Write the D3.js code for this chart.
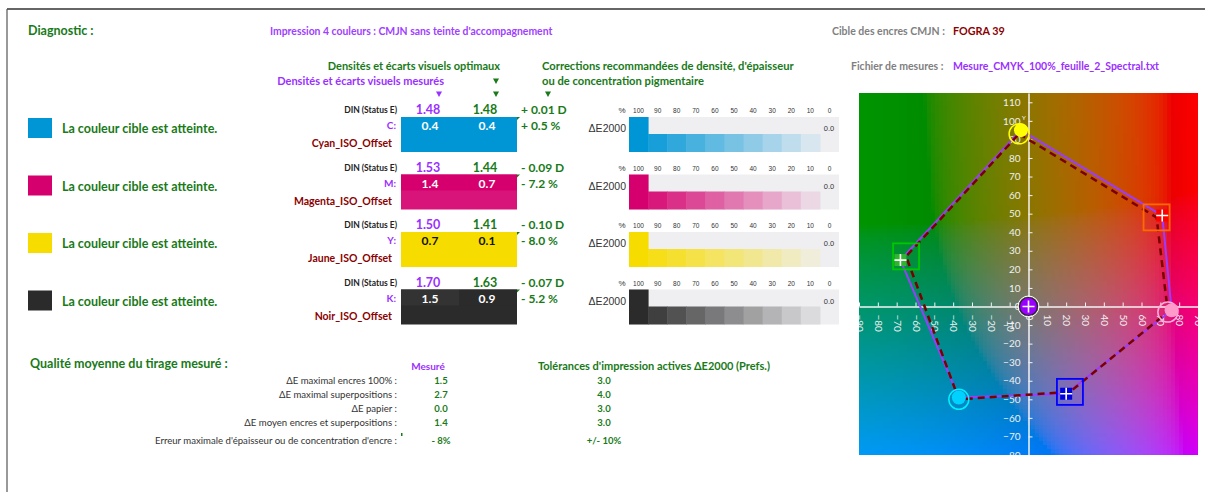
<!DOCTYPE html>
<html>
<head>
<meta charset="utf-8">
<script src="https://cdn.jsdelivr.net/npm/d3@7/dist/d3.min.js"></script>
<style>
  body { margin: 0; background: #fff; }
  text { font-family: Lato, "Open Sans", sans-serif; }
  .arial { font-family: "Liberation Sans", Arial, sans-serif; }
</style>
</head>
<body>
<div id="chart"></div>
<script>
// ---- data ----
const inkCodes = ["C", "M", "Y", "K"];
const inkNames = ["Cyan_ISO_Offset", "Magenta_ISO_Offset", "Jaune_ISO_Offset", "Noir_ISO_Offset"];
const densityMeasured = [1.48, 1.53, 1.50, 1.70];
const densityOptimal = [1.48, 1.44, 1.41, 1.63];
const densityCorrection = [0.01, -0.09, -0.10, -0.07];
const thicknessCorrection = [0.5, -7.2, -8.0, -5.2];
const deltaEMeasured = [0.4, 1.4, 0.7, 1.5];
const deltaEOptimal = [0.4, 0.7, 0.1, 0.9];
const toneSteps = [100, 90, 80, 70, 60, 50, 40, 30, 20, 10, 0];
const toneDeltaEMax = [0.0, 0.0, 0.0, 0.0];

const patches = ["Y", "R", "M", "B", "C", "G"];
const targetA = [-5, 68, 74, 22, -37, -65];
const targetB = [93, 48, -3, -46, -50, 27];
const measuredA = [-4, 71, 76, 20, -37, -68];
const measuredB = [95, 49, -2, -47, -49, 25];
const paperA = 0, paperB = 0;
const aTicks = d3.range(-90, 91, 10);
const bTicks = d3.range(-80, 111, 10);

const qualityLabels = ["ΔE maximal encres 100% :", "ΔE maximal superpositions :", "ΔE papier :",
  "ΔE moyen encres et superpositions :", "Erreur maximale d'épaisseur ou de concentration d'encre :"];
const qualityMeasured = ["1.5", "2.7", "0.0", "1.4", "- 8%"];
const qualityTolerance = ["3.0", "4.0", "3.0", "3.0", "+/- 10%"];

// ---- styles ----
const GREEN = "#187a18", PURPLE = "#9b30ff", DARKRED = "#8b0000", GREY = "#7f7f7f";
const inkColor = { C: "#0096d6", M: "#d5006e", Y: "#f7dc00", K: "#2b2b2b" };
const inkLower = { C: "#0096d6", M: "#d8147a", Y: "#f7dc00", K: "#2b2b2b" };
const inkCell1 = { C: "#0096d6", M: "#d5006e", Y: "#f7dc00", K: "#333333" };
const paper = "#efeff2";
const markerStyle = {
  Y: { shape: "circle", fill: "#ffff00", stroke: "#ffff00" },
  R: { shape: "square", fill: "#ff0000", stroke: "#ff6a00" },
  M: { shape: "circle", fill: "#ff9acb", stroke: "#ffb0d8" },
  B: { shape: "square", fill: "#0000e0", stroke: "#0000ff" },
  C: { shape: "circle", fill: "#00d2ff", stroke: "#00f0ff" },
  G: { shape: "square", fill: "#2fb52f", stroke: "#00c800" }
};

const W = 1205, H = 492;
const svg = d3.select("#chart").append("svg").attr("width", W).attr("height", H);

// frame
svg.append("line").attr("x1", 7).attr("y1", 9).attr("x2", W).attr("y2", 9)
  .attr("stroke", "#333").attr("stroke-width", 1.5);
svg.append("line").attr("x1", 7).attr("y1", 9).attr("x2", 7).attr("y2", H)
  .attr("stroke", "#555").attr("stroke-width", 1.2);

function txt(g, x, y, s, size, color, weight, anchor) {
  return g.append("text").attr("x", x).attr("y", y).text(s)
    .attr("font-size", size).attr("fill", color)
    .attr("font-weight", weight || "normal").attr("text-anchor", anchor || "start");
}

// header
txt(svg, 28, 35, "Diagnostic :", 12.5, GREEN, "bold");
txt(svg, 270, 35, "Impression 4 couleurs : CMJN sans teinte d'accompagnement", 10.4, "#a040ff", "bold");
txt(svg, 832, 35, "Cible des encres CMJN :", 10.5, GREY, "bold");
txt(svg, 953, 35, "FOGRA 39", 10.8, DARKRED, "bold");
txt(svg, 500, 70, "Densités et écarts visuels optimaux", 11, GREEN, "bold", "end");
txt(svg, 444, 85, "Densités et écarts visuels mesurés", 11, PURPLE, "bold", "end");
txt(svg, 542, 70, "Corrections recommandées de densité, d'épaisseur", 11.2, GREEN, "bold");
txt(svg, 542, 85, "ou de concentration pigmentaire", 11.2, GREEN, "bold");
txt(svg, 851, 70, "Fichier de mesures :", 10.5, GREY, "bold");
txt(svg, 953, 70, "Mesure_CMYK_100%_feuille_2_Spectral.txt", 10.5, PURPLE, "bold");

function tri(cx, cy, color) {
  svg.append("path").attr("d", `M${cx - 3},${cy - 2.5}L${cx + 3},${cy - 2.5}L${cx},${cy + 3}Z`).attr("fill", color);
}
tri(496, 81, GREEN);
tri(439, 94, PURPLE);
tri(496, 94, GREEN);
tri(548, 94, GREEN);

// rows
const rowY = d3.scaleBand().domain(inkCodes).range([117, 347]);
const toneX = d3.scaleBand().domain(toneSteps).range([629, 839]);
const fmtD = v => (v >= 0 ? "+ " : "- ") + d3.format(".2f")(Math.abs(v)) + " D";
const fmtP = v => (v >= 0 ? "+ " : "- ") + d3.format(".1f")(Math.abs(v)) + " %";

inkCodes.forEach((code, i) => {
  const top = rowY(code);
  const g = svg.append("g");
  g.append("rect").attr("x", 28).attr("y", top + 1).attr("width", 24).attr("height", 20).attr("fill", inkColor[code]);
  txt(g, 62, top + 16, "La couleur cible est atteinte.", 12.5, GREEN, "bold");

  txt(g, 397, top - 4, "DIN (Status E)", 8.5, "#222", "bold", "end");
  txt(g, 396, top + 12, code + ":", 10, PURPLE, "bold", "end");
  txt(g, 392, top + 30, inkNames[i], 10.5, DARKRED, "bold", "end");

  txt(g, 428, top - 3, d3.format(".2f")(densityMeasured[i]), 12.5, PURPLE, "bold", "middle");
  txt(g, 485, top - 3, d3.format(".2f")(densityOptimal[i]), 12.5, GREEN, "bold", "middle");
  txt(g, 521, top - 3, fmtD(densityCorrection[i]), 12, GREEN, "bold");
  txt(g, 521, top + 13, fmtP(thicknessCorrection[i]), 12, GREEN, "bold");

  g.append("rect").attr("x", 401).attr("y", top).attr("width", 116).attr("height", 35).attr("fill", inkLower[code]);
  g.append("rect").attr("x", 401).attr("y", top).attr("width", 58).attr("height", 16).attr("fill", inkCell1[code]);
  g.append("rect").attr("x", 459).attr("y", top).attr("width", 58).attr("height", 16).attr("fill", inkColor[code]);
  const vc = code === "Y" ? "#111" : "#fff";
  txt(g, 430, top + 13, d3.format(".1f")(deltaEMeasured[i]), 12, vc, "bold", "middle");
  txt(g, 487, top + 13, d3.format(".1f")(deltaEOptimal[i]), 12, vc, "bold", "middle");
  g.append("path").attr("d", `M517,${top}l3,0l-3,3Z`).attr("fill", GREEN);

  // tone bars
  txt(g, 622, top - 4, "%", 8, "#333", "normal", "middle").attr("class", "arial");
  toneSteps.forEach(s => {
    txt(g, toneX(s) + toneX.bandwidth() / 2, top - 4, s, 6.5, "#333", "normal", "middle").attr("class", "arial");
  });
  g.append("rect").attr("x", 629).attr("y", top).attr("width", 210).attr("height", 35).attr("fill", paper);
  const mix = d3.interpolateRgb(paper, inkColor[code]);
  g.selectAll("rect.tone").data(toneSteps.filter(s => s > 0)).join("rect").attr("class", "tone")
    .attr("x", s => toneX(s)).attr("width", toneX.bandwidth() + 0.5)
    .attr("y", s => s === 100 ? top : top + 17).attr("height", s => s === 100 ? 35 : 18)
    .attr("fill", s => mix(s / 100));
  txt(g, 626, top + 15, "ΔE2000", 10.5, "#333", "normal", "end").attr("class", "arial");
  txt(g, 829, top + 14, d3.format(".1f")(toneDeltaEMax[i]), 7.5, "#333", "normal", "middle").attr("class", "arial");
});

// quality table
txt(svg, 30, 368, "Qualité moyenne du tirage mesuré :", 12.5, GREEN, "bold");
txt(svg, 428, 370, "Mesuré", 10, PURPLE, "bold", "middle");
txt(svg, 538, 370, "Tolérances d'impression actives ΔE2000 (Prefs.)", 11, GREEN, "bold");
const qY = [384, 398, 412, 426, 444];
qualityLabels.forEach((l, i) => {
  txt(svg, 397, qY[i], l, 9.6, "#333", "normal", "end");
  txt(svg, 441, qY[i], qualityMeasured[i], 9.5, GREEN, "bold", "middle");
  txt(svg, 604, qY[i], qualityTolerance[i], 9.5, GREEN, "bold", "middle");
});
svg.append("rect").attr("x", 401).attr("y", 433).attr("width", 1.5).attr("height", 3).attr("fill", GREEN);

// ---- a*b* chart ----
const x = d3.scaleLinear().domain([-90, 90]).range([859, 1198]);
const y = d3.scaleLinear().domain([-80, 115]).range([455, 93]);

svg.append("clipPath").attr("id", "plotclip").append("rect")
  .attr("x", 859).attr("y", 93).attr("width", 339).attr("height", 362);
const plot = svg.append("g").attr("clip-path", "url(#plotclip)");

const cell = 4;
const cells = [];
for (let px = 859; px < 1198; px += cell) {
  for (let py = 93; py < 455; py += cell) {
    cells.push({ px, py, a: x.invert(px + cell / 2), b: y.invert(py + cell / 2) });
  }
}
plot.append("g").selectAll("rect").data(cells).join("rect")
  .attr("x", d => d.px).attr("y", d => d.py).attr("width", cell + 0.5).attr("height", cell + 0.5)
  .attr("shape-rendering", "crispEdges")
  .attr("fill", d => d3.lab(50, d.a, d.b + 6).formatHex());

// axes
const yAxis = plot.append("g").attr("transform", `translate(${x(0)},0)`)
  .call(d3.axisLeft(y).tickValues(bTicks).tickSizeInner(-4).tickSizeOuter(0).tickPadding(8));
const xAxis = plot.append("g").attr("transform", `translate(0,${y(0)})`)
  .call(d3.axisBottom(x).tickValues(aTicks).tickSizeInner(-4).tickSizeOuter(0).tickPadding(8));
[yAxis, xAxis].forEach(ax => {
  ax.select(".domain").attr("stroke", "#f4f4f4").attr("stroke-width", 1.5);
  ax.selectAll(".tick line").attr("stroke", "#f4f4f4");
  ax.selectAll("text").attr("fill", "#f0f0f0").attr("font-size", 10)
    .attr("font-family", "'Liberation Sans', Arial, sans-serif");
});
xAxis.selectAll("text").attr("y", 0).attr("x", 8).attr("dy", "0.35em")
  .attr("transform", "rotate(90)").style("text-anchor", "start");

// target (dashed) and measured (solid) polygons
const tgt = patches.map((p, i) => [x(targetA[i]), y(targetB[i])]);
const mes = patches.map((p, i) => [x(measuredA[i]), y(measuredB[i])]);
const line = d3.line().curve(d3.curveLinearClosed);
plot.append("path").attr("d", line(mes)).attr("fill", "none")
  .attr("stroke", "#9a3cff").attr("stroke-width", 2);
plot.append("path").attr("d", line(tgt)).attr("fill", "none")
  .attr("stroke", "#7a0000").attr("stroke-width", 2.5).attr("stroke-dasharray", "7,5");

function cross(cx, cy, r) {
  plot.append("path").attr("d", `M${cx - r},${cy}H${cx + r}M${cx},${cy - r}V${cy + r}`)
    .attr("stroke", "#fff").attr("stroke-width", 1.6);
}

patches.forEach((p, i) => {
  const st = markerStyle[p];
  const [tx, ty] = tgt[i];
  const [mx, my] = mes[i];
  if (st.shape === "circle") {
    plot.append("circle").attr("cx", tx).attr("cy", ty).attr("r", 10)
      .attr("fill", "none").attr("stroke", st.stroke).attr("stroke-width", 1.5);
    plot.append("circle").attr("cx", mx).attr("cy", my).attr("r", 7).attr("fill", st.fill);
  } else {
    plot.append("rect").attr("x", tx - 13).attr("y", ty - 13).attr("width", 26).attr("height", 26)
      .attr("fill", "none").attr("stroke", st.stroke).attr("stroke-width", 1.8);
    plot.append("rect").attr("x", mx - 6).attr("y", my - 6).attr("width", 12).attr("height", 12).attr("fill", st.fill);
    cross(mx, my, 6);
  }
});
plot.append("text").attr("x", x(measuredA[0]) + 1).attr("y", y(measuredB[0]) - 10)
  .attr("font-size", 6).attr("fill", "#fff").attr("font-family", "'Liberation Sans', sans-serif").text("Y");

// paper
plot.append("circle").attr("cx", x(paperA)).attr("cy", y(paperB)).attr("r", 10.5)
  .attr("fill", "none").attr("stroke", "#fff").attr("stroke-width", 1);
plot.append("circle").attr("cx", x(paperA)).attr("cy", y(paperB)).attr("r", 9)
  .attr("fill", "#9900ff").attr("stroke", "#222").attr("stroke-width", 1.2);
cross(x(paperA), y(paperB), 6);
</script>
</body>
</html>
